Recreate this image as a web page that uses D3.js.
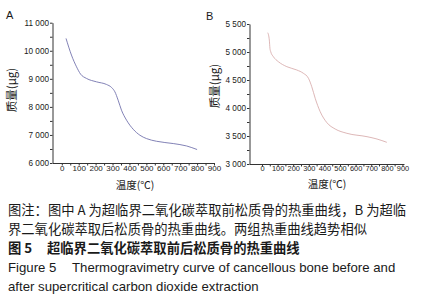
<!DOCTYPE html>
<html>
<head>
<meta charset="utf-8">
<script src="https://cdn.jsdelivr.net/npm/d3@7"></script>
<style>
body{margin:0;background:#fff;}
text{font-family:"Liberation Sans",Arial,sans-serif;fill:#1a1a1a;}
.cjk{font-family:"Noto Sans CJK SC","Liberation Sans",sans-serif;}
</style>
</head>
<body>
<div id="container"></div>
<script>
let w=422;
let h=302;

// panel A: before extraction
let tempA=[25,57,87,111,146,205,264,294,314,333,353,383,422,462,501,560,659,738,800];
let massA=[10440,9847,9429,9168,9014,8893,8800,8693,8536,8240,7882,7525,7204,6989,6870,6775,6693,6607,6480];
// panel B: after extraction
let tempB=[37,47,51,56,73,105,159,223,265,298,319,341,373,416,469,544,673,737,800];
let massB=[5345,5214,5066,5005,4916,4827,4738,4679,4620,4530,4380,4173,3934,3738,3625,3548,3488,3446,3387];

let xTicks=[0,100,200,300,400,500,600,700,800,900];
let yTicksA=[6000,7000,8000,9000,10000,11000];
let yTicksB=[3000,3500,4000,4500,5000,5500];

let captions=[
  "图注：图中 A 为超临界二氧化碳萃取前松质骨的热重曲线，B 为超临",
  "界二氧化碳萃取后松质骨的热重曲线。两组热重曲线趋势相似"
];
let figTitleCn=["图 5","超临界二氧化碳萃取前后松质骨的热重曲线"];
let figTitleEn=["Figure 5","Thermogravimetry curve of cancellous bone before and","after supercritical carbon dioxide extraction"];

let fmt=d3.formatLocale({decimal:".",thousands:" ",grouping:[3],currency:["",""]}).format(",");

let viz=d3.select("#container").append("svg")
  .attr("width",w).attr("height",h);
viz.append("rect").attr("width",w).attr("height",h).attr("fill","#fff");

function panel(opt){
  let g=viz.append("g");
  let x=d3.scaleLinear().domain(opt.xDom).range(opt.xRange);
  let y=d3.scaleLinear().domain(opt.yDom).range(opt.yRange);

  // x axis, minor ticks every 50
  let xa=g.append("g").attr("transform","translate(0,"+opt.yRange[0]+")")
    .call(d3.axisBottom(x).tickValues(d3.range(0,901,50)).tickSize(2.5).tickSizeOuter(0)
      .tickFormat(function(d){return xTicks.indexOf(d)>=0?d:"";}));
  xa.selectAll("text").attr("font-size",opt.xFont).attr("dy","0.6em").attr("y",3)
    .attr("font-family","Liberation Sans").attr("fill","#111");
  xa.select(".domain").attr("stroke","#333");
  xa.selectAll(".tick line").attr("stroke","#333");

  // y axis
  let ya=g.append("g").attr("transform","translate("+opt.xRange[0]+",0)")
    .call(d3.axisLeft(y).tickValues(opt.yMinor).tickSize(2.5).tickSizeOuter(0)
      .tickFormat(function(d){return opt.yTicks.indexOf(d)>=0?fmt(d):"";}));
  ya.selectAll("text").attr("font-size",8.2).attr("x",-3.5)
    .attr("font-family","Liberation Sans").attr("fill","#111");
  ya.select(".domain").attr("stroke","#333");
  ya.selectAll(".tick line").attr("stroke","#333");

  let line=d3.line().x(function(d){return x(d[0]);}).y(function(d){return y(d[1]);})
    .curve(d3.curveMonotoneX);
  g.append("path").datum(d3.zip(opt.temp,opt.mass))
    .attr("d",line).attr("fill","none")
    .attr("stroke",opt.color).attr("stroke-width",opt.width);

  g.append("text").attr("class","cjk").text("温度(℃)")
    .attr("x",opt.xTitle[0]).attr("y",opt.xTitle[1])
    .attr("text-anchor","middle").attr("font-size",10.5);
  g.append("text").attr("class","cjk").text("质量(μg)")
    .attr("transform","translate("+opt.yTitle[0]+","+opt.yTitle[1]+") rotate(-90)")
    .attr("text-anchor","middle").attr("font-size",11.5);
  g.append("text").text(opt.label)
    .attr("x",opt.labelPos[0]).attr("y",opt.labelPos[1]).attr("font-size",11);
}

panel({
  xDom:[-55,900],xRange:[52.5,214],yDom:[6000,11000],yRange:[163,22.7],
  yTicks:yTicksA,yMinor:d3.range(6000,11001,500),
  temp:tempA,mass:massA,color:"#7474ae",width:0.9,xFont:8,
  xTitle:[135,189],yTitle:[16,90],label:"A",labelPos:[6,19]
});
panel({
  xDom:[-80,910],xRange:[249.5,404],yDom:[3000,5500],yRange:[164,24],
  yTicks:yTicksB,yMinor:d3.range(3000,5501,250),
  temp:tempB,mass:massB,color:"#d4a4a4",width:0.8,xFont:7.4,
  xTitle:[327,188],yTitle:[219,86],label:"B",labelPos:[206,20]
});

// caption
let cap=viz.append("g");
captions.forEach(function(t,i){
  cap.append("text").attr("class","cjk").text(t)
    .attr("x",8).attr("y",215+i*18.5).attr("font-size",13.3).attr("fill","#222");
});
cap.append("text").attr("class","cjk").text(figTitleCn[0])
  .attr("x",8).attr("y",253).attr("font-size",13.3).attr("font-weight","bold");
cap.append("text").attr("class","cjk").text(figTitleCn[1])
  .attr("x",47).attr("y",253).attr("font-size",13.3).attr("font-weight","bold");
cap.append("text").text(figTitleEn[0])
  .attr("x",8).attr("y",272).attr("font-size",13.2);
cap.append("text").text(figTitleEn[1])
  .attr("x",72).attr("y",272).attr("font-size",13.2);
cap.append("text").text(figTitleEn[2])
  .attr("x",8).attr("y",291).attr("font-size",13.2);
</script>
</body>
</html>
